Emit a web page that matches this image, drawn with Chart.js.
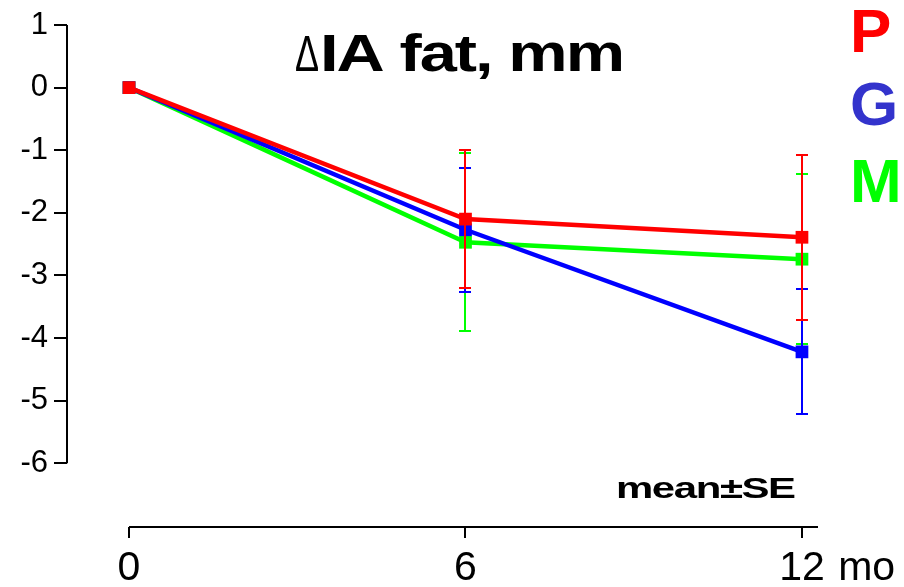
<!DOCTYPE html>
<html>
<head>
<meta charset="utf-8">
<script src="https://cdn.jsdelivr.net/npm/chart.js@4"></script>
<style>
  html, body { margin: 0; padding: 0; background: #fff; }
</style>
</head>
<body>
<canvas id="chart" width="904" height="587"></canvas>
<script>
// months of follow-up and group means / standard errors (mm)
const months = [0, 6, 12];
const groups = ["P", "G", "M"];
const lineColors = ["#ff0000", "#0000ff", "#00ff00"];
const letterColors = ["#ff0000", "#3333cc", "#00ff00"];
const meanP = [0, -2.10, -2.39];
const meanG = [0, -2.27, -4.22];
const meanM = [0, -2.47, -2.74];
const seP = [0, 1.10, 1.32];
const seG = [0, 0.99, 1.00];
const seM = [0, 1.42, 1.36];
const xTicks = [0, 6, 12];
const yTicks = [1, 0, -1, -2, -3, -4, -5, -6];

const means = [meanP, meanG, meanM];
const errors = [seP, seG, seM];
const FONT = "'Liberation Sans', Arial, sans-serif";

const datasets = groups.map((g, k) => ({
  label: g,
  data: months.map((m, i) => ({ x: m, y: means[k][i] })),
  borderColor: lineColors[k],
  backgroundColor: lineColors[k],
  borderWidth: 4.5,
  pointStyle: "rect",
  pointRadius: 9,
  pointBorderWidth: 0,
  tension: 0
}));

// error bars, drawn after the lines (M first so P ends on top)
const errorBars = {
  id: "errorBars",
  afterDatasetsDraw(chart) {
    const { ctx, scales: { x, y } } = chart;
    ctx.save();
    ctx.lineWidth = 2;
    [2, 1, 0].forEach(k => {
      ctx.strokeStyle = lineColors[k];
      months.forEach((m, i) => {
        const se = errors[k][i];
        if (!se) return;
        const px = Math.round(x.getPixelForValue(m));
        const top = Math.round(y.getPixelForValue(means[k][i] + se));
        const bot = Math.round(y.getPixelForValue(means[k][i] - se));
        ctx.beginPath();
        ctx.moveTo(px, top); ctx.lineTo(px, bot);
        ctx.moveTo(px - 6, top); ctx.lineTo(px + 6, top);
        ctx.moveTo(px - 6, bot); ctx.lineTo(px + 6, bot);
        ctx.stroke();
      });
    });
    ctx.restore();
  }
};

// wide, tightly set bold text squeezed into a given width
function wideText(ctx, text, size, spacing, left, baseline, width) {
  ctx.save();
  ctx.font = "bold " + size + "px " + FONT;
  ctx.letterSpacing = spacing + "px";
  const w = ctx.measureText(text).width - spacing;
  ctx.translate(left, baseline);
  ctx.scale(width / w, 1);
  ctx.fillText(text, 0, 0);
  ctx.restore();
}

// detached axis lines plus the title, group letters and notes
const decorations = {
  id: "decorations",
  afterDraw(chart) {
    const { ctx, chartArea, scales: { x, y } } = chart;
    ctx.save();
    ctx.strokeStyle = "#000";
    ctx.lineWidth = 2;
    ctx.beginPath();
    ctx.moveTo(chartArea.left, y.getPixelForValue(yTicks[0]));
    ctx.lineTo(chartArea.left, y.getPixelForValue(yTicks[yTicks.length - 1]));
    ctx.moveTo(x.getPixelForValue(xTicks[0]), chartArea.bottom);
    ctx.lineTo(chartArea.right, chartArea.bottom);
    ctx.stroke();

    ctx.fillStyle = "#000";
    ctx.textBaseline = "alphabetic";
    ctx.textAlign = "left";

    // title: thin delta, heavy rest
    ctx.save();
    ctx.font = "50px " + FONT;
    ctx.translate(295, 71);
    ctx.scale(0.72, 1);
    ctx.fillText("\u0394", 0, 0);
    ctx.restore();
    wideText(ctx, "IA fat, mm", 51, -1.5, 320, 71, 305);

    // mean±SE note
    wideText(ctx, "mean\u00b1SE", 29.5, -1, 616, 498, 180);

    // group letters
    ctx.font = "bold 62px " + FONT;
    const base = [52, 125, 202];
    groups.forEach((g, k) => {
      ctx.fillStyle = letterColors[k];
      ctx.fillText(g, 850, base[k]);
    });

    // unit after the last month label
    ctx.fillStyle = "#000";
    ctx.font = "41px " + FONT;
    const last = xTicks[xTicks.length - 1];
    const lw = ctx.measureText(String(last)).width;
    ctx.fillText(" mo", x.getPixelForValue(last) + lw / 2 + 2, 580);
    ctx.restore();
  }
};

new Chart(document.getElementById("chart"), {
  type: "line",
  data: { datasets },
  plugins: [errorBars, decorations],
  options: {
    responsive: false,
    animation: false,
    devicePixelRatio: 1,
    layout: { padding: { top: 25, right: 86, left: 0, bottom: 0 } },
    plugins: { legend: { display: false }, tooltip: { enabled: false } },
    scales: {
      x: {
        type: "linear",
        min: -1.106,
        max: 12.286,
        afterBuildTicks: s => { s.ticks = xTicks.map(v => ({ value: v })); },
        afterFit: s => { s.height = 60; },
        border: { display: false },
        grid: { drawOnChartArea: false, drawTicks: true, tickLength: 11, color: "#000", lineWidth: 2 },
        ticks: {
          autoSkip: false,
          maxRotation: 0,
          padding: 6,
          color: "#000",
          font: { family: FONT, size: 41 },
          callback: v => String(v)
        }
      },
      y: {
        min: -7.017,
        max: 1,
        afterBuildTicks: s => { s.ticks = yTicks.map(v => ({ value: v })); },
        afterFit: s => { s.width = 67; },
        border: { display: false },
        grid: { drawOnChartArea: false, drawTicks: true, tickLength: 13, color: "#000", lineWidth: 2 },
        ticks: {
          autoSkip: false,
          padding: 6,
          color: "#000",
          font: { family: FONT, size: 31 },
          callback: v => String(v)
        }
      }
    }
  }
});
</script>
</body>
</html>
